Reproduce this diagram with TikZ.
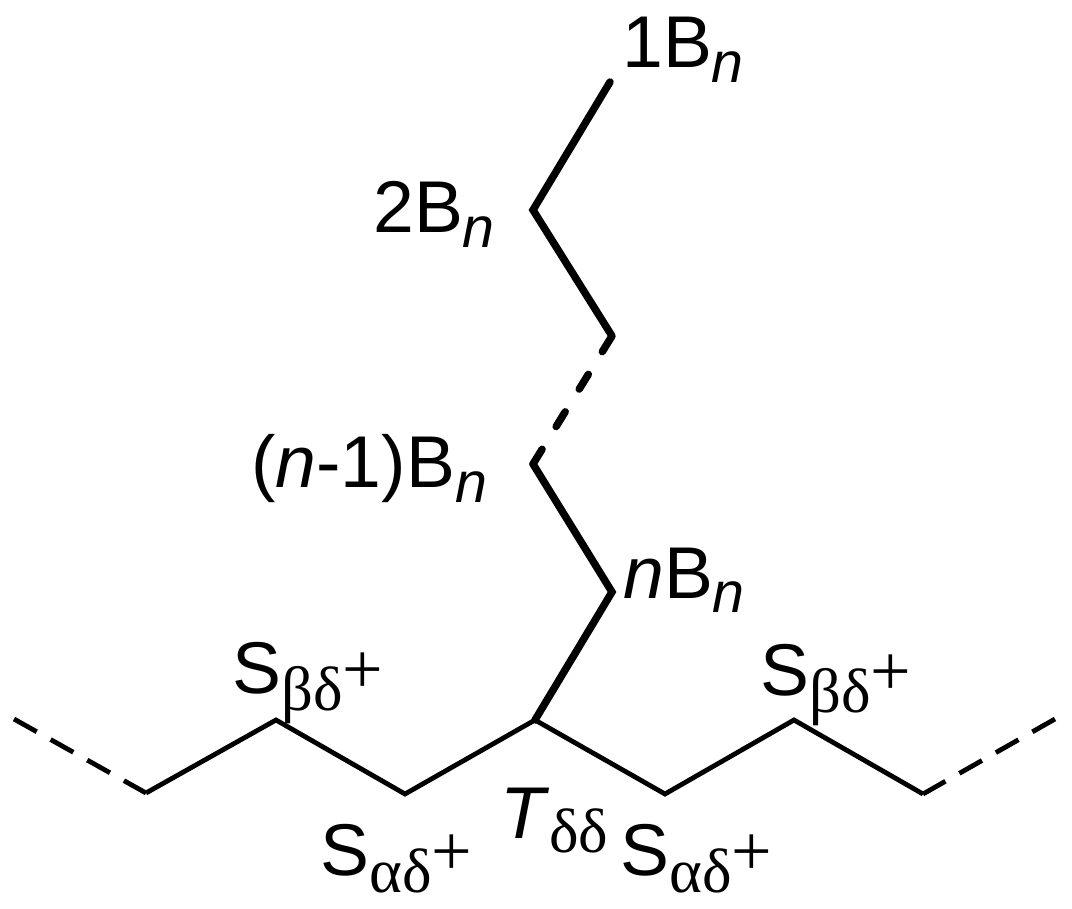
\documentclass[tikz,border=0pt]{standalone}
\usepackage{fontspec}
\setmainfont{Liberation Sans}
\newfontfamily\grk{Liberation Serif}
\usepackage{tikz}

\newcommand{\subn}{\raisebox{-11pt}{\fontsize{43}{48}\selectfont\itshape n}}
\newcommand{\grsub}[1]{\raisebox{-13pt}{\fontsize{47}{50}\selectfont\grk #1}}
\newcommand{\grplus}{{\fontsize{54}{56}\selectfont\grk +}}

\tikzset{
  lbl/.style={anchor=base west, inner sep=0pt, font=\fontsize{55}{60}\selectfont},
  chain/.style={line width=3.6pt},
  chainend/.style={line width=3.6pt, dash pattern={on 19.5pt off 12pt}},
  branch/.style={line width=5.6pt, line cap=round},
  branchgap/.style={line width=5.6pt, line cap=round, dash pattern={on 13pt off 20pt}}
}

\begin{document}
\begin{tikzpicture}[x=0.75pt,y=0.75pt,yscale=-1,xscale=1]
\useasboundingbox (0,0) rectangle (1072,909);

%Main chain points
\coordinate (lend) at (14,719);
\coordinate (c1) at (146,793);
\coordinate (sbl) at (276,720);
\coordinate (sal) at (405,794);
\coordinate (tdd) at (535,720);
\coordinate (sar) at (665,794);
\coordinate (sbr) at (794,720);
\coordinate (c7) at (923,794);
\coordinate (rend) at (1055,719);

%Branch points
\coordinate (bn) at (612,592);
\coordinate (bnm) at (533,464);
\coordinate (b3) at (612,336);
\coordinate (b2) at (533,210);
\coordinate (b1) at (610,82);

%Straight Lines
\draw [chainend] (lend) -- (c1);
\draw [chain] (c1) -- (sbl) -- (sal) -- (tdd) -- (sar) -- (sbr) -- (c7);
\draw [chainend] (rend) -- (c7);

%Branch
\draw [branch] (tdd) -- (bn) -- (bnm);
\draw [branchgap] (bnm) -- (b3);
\draw [branch] (b3) -- (b2) -- (b1);

% Text Node
\node [lbl] (l1) at (622,68) {1B\subn};
% Text Node
\node [lbl] (l2) at (373,233) {2B\subn};
% Text Node
\node [lbl] (lnm) at (251,488) {(\textit{n}-1)B\subn};
% Text Node
\node [lbl] (ln) at (623,598) {\textit{n}B\subn};
% Text Node
\node [lbl] (lsbl) at (232,693) {S\grsub{βδ}\grplus};
% Text Node
\node [lbl] (lsbr) at (760,695) {S\grsub{βδ}\grplus};
% Text Node
\node [lbl] (lsal) at (320,875) {S\grsub{αδ}\grplus};
% Text Node
\node [lbl] (lsar) at (620,875) {S\grsub{αδ}\grplus};
% Text Node
\node [lbl] (ltdd) at (500,838) {\textit{T}\raisebox{-11pt}{\fontsize{47}{50}\selectfont\grk δδ}};

\end{tikzpicture}
\end{document}
